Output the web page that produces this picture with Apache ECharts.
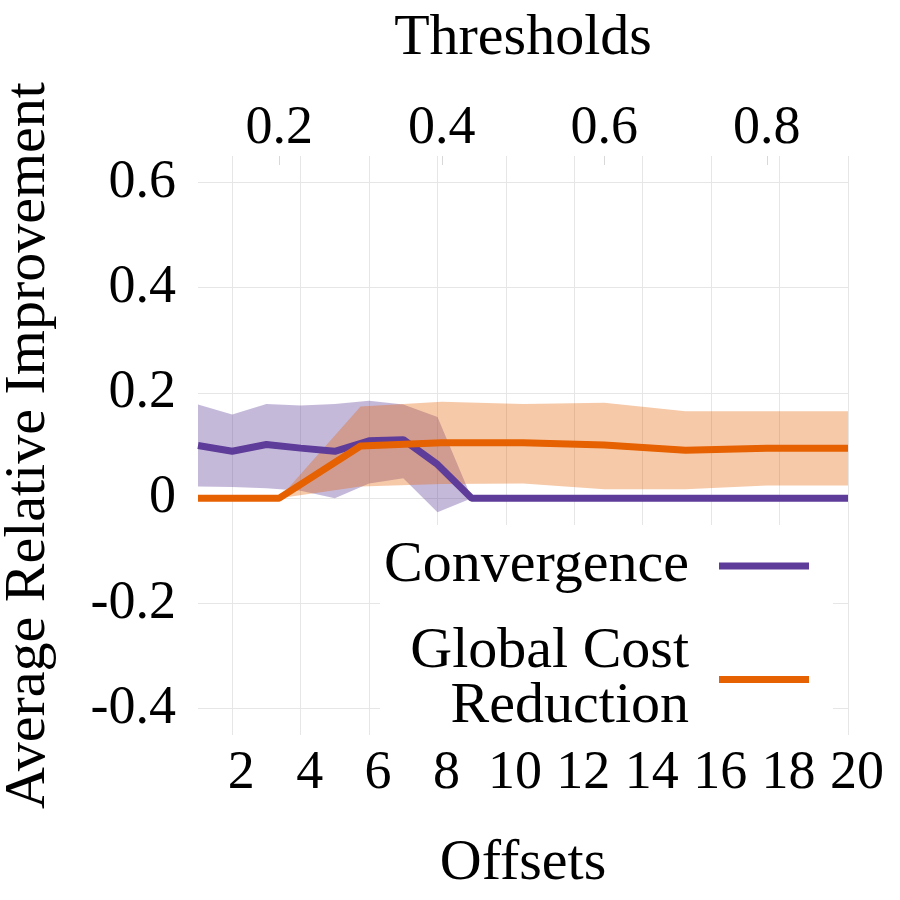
<!DOCTYPE html>
<html>
<head>
<meta charset="utf-8">
<script src="https://cdn.jsdelivr.net/npm/echarts@6/dist/echarts.min.js"></script>
<style>
  html, body { margin: 0; padding: 0; background: #fff; }
  #chart { width: 900px; height: 900px; }
</style>
</head>
<body>
<div id="chart"></div>
<script>
// bottom axis: offsets
const offsets = [1, 2, 3, 4, 5, 6, 7, 8, 9, 10, 11, 12, 13, 14, 15, 16, 17, 18, 19, 20]
const convMean = [0.100, 0.089, 0.102, 0.095, 0.089, 0.109, 0.111, 0.064, 0, 0, 0, 0, 0, 0, 0, 0, 0, 0, 0, 0]
const convLow = [0.022, 0.021, 0.019, 0.014, 0.000, 0.028, 0.038, -0.027, 0, 0, 0, 0, 0, 0, 0, 0, 0, 0, 0, 0]
const convHigh = [0.178, 0.159, 0.179, 0.176, 0.179, 0.185, 0.178, 0.154, 0, 0, 0, 0, 0, 0, 0, 0, 0, 0, 0, 0]

// top axis: thresholds
const thresholds = [0.1, 0.2, 0.3, 0.4, 0.5, 0.6, 0.7, 0.8, 0.9]
const gcrMean = [0, 0, 0.099, 0.105, 0.105, 0.101, 0.091, 0.095, 0.095]
const gcrLow = [0, 0, 0.022, 0.027, 0.028, 0.017, 0.017, 0.024, 0.024]
const gcrHigh = [0, 0, 0.174, 0.183, 0.179, 0.181, 0.165, 0.165, 0.165]

// tick labels
const offsetTicks = [2, 4, 6, 8, 10, 12, 14, 16, 18, 20]
const thresholdTicks = [0.2, 0.4, 0.6, 0.8]
const yTicks = [-0.4, -0.2, 0, 0.2, 0.4, 0.6]

const purple = '#5e3c99'
const orange = '#e66101'
const gridColor = '#e6e6e6'
const font = 'Liberation Serif'

const fmt = v => (Math.abs(v) < 1e-9 ? '0' : Number(v).toFixed(1))

const chart = echarts.init(document.getElementById('chart'))

// shaded band drawn as one polygon through the axis scales
const band = (xIdx, xs, low, high, color, opacity) => ({
  type: 'custom',
  xAxisIndex: xIdx,
  silent: true,
  z: 1,
  encode: { x: 0, y: [1, 2] },
  data: xs.map((x, i) => [x, low[i], high[i]]),
  renderItem: (params, api) => {
    if (params.dataIndexInside !== 0) return null
    const n = params.dataInsideLength
    const top = []
    const bottom = []
    for (let i = 0; i < n; i++) {
      top.push(api.coord([api.value(0, i), api.value(2, i)]))
      bottom.push(api.coord([api.value(0, i), api.value(1, i)]))
    }
    return {
      type: 'polygon',
      shape: { points: top.concat(bottom.reverse()) },
      style: { fill: color, opacity: opacity }
    }
  }
})

const option = {
  animation: false,
  textStyle: { fontFamily: font, color: '#000' },
  grid: { left: 198, right: 52, top: 156, bottom: 165, outerBoundsMode: 'none', containLabel: false },
  legend: {
    data: ['Convergence', 'Global Cost\nReduction'],
    orient: 'vertical',
    right: 67,
    top: 525,
    align: 'right',
    icon: 'rect',
    itemWidth: 90,
    itemHeight: 7,
    itemGap: 28,
    padding: [12, 24, 0, 4],
    backgroundColor: '#fff',
    textStyle: { fontFamily: font, fontSize: 58, lineHeight: 55, color: '#000', padding: [0, 25, 0, 0] }
  },
  xAxis: [
    {
      type: 'value',
      position: 'bottom',
      min: 1,
      max: 20,
      name: 'Offsets',
      nameLocation: 'middle',
      nameGap: 100,
      nameTextStyle: { fontSize: 58, fontFamily: font, color: '#000' },
      axisLine: { show: false },
      axisTick: { show: false, customValues: offsetTicks },
      axisLabel: {
        customValues: offsetTicks, fontSize: 54, margin: 12, color: '#000',
        padding: [0, 0, 0, 18], formatter: v => String(v)
      },
      splitLine: { show: true, customValues: offsetTicks, lineStyle: { color: gridColor, width: 1 } }
    },
    {
      type: 'value',
      position: 'top',
      min: 0.1,
      max: 0.9,
      name: 'Thresholds',
      nameLocation: 'middle',
      nameGap: 88,
      nameTextStyle: { fontSize: 58, fontFamily: font, color: '#000' },
      axisLine: { show: false },
      axisTick: { show: true, inside: true, length: 9, customValues: thresholdTicks, lineStyle: { color: '#d8d8d8' } },
      axisLabel: { customValues: thresholdTicks, fontSize: 54, margin: 0, color: '#000', formatter: fmt },
      splitLine: { show: false }
    }
  ],
  yAxis: {
    type: 'value',
    min: -0.45,
    max: 0.65,
    name: 'Average Relative Improvement',
    nameLocation: 'middle',
    nameGap: 140,
    nameTextStyle: { fontSize: 58, fontFamily: font, color: '#000' },
    axisLine: { show: false },
    axisTick: { show: false, customValues: yTicks },
    axisLabel: { customValues: yTicks, fontSize: 54, margin: 22, color: '#000', formatter: fmt },
    splitLine: { show: true, customValues: yTicks, lineStyle: { color: gridColor, width: 1 } }
  },
  series: [
    band(0, offsets, convLow, convHigh, purple, 0.36),
    band(1, thresholds, gcrLow, gcrHigh, orange, 0.34),
    {
      name: 'Convergence',
      type: 'line',
      xAxisIndex: 0,
      symbol: 'none',
      z: 3,
      color: purple,
      lineStyle: { color: purple, width: 7 },
      data: offsets.map((x, i) => [x, convMean[i]])
    },
    {
      name: 'Global Cost\nReduction',
      type: 'line',
      xAxisIndex: 1,
      symbol: 'none',
      z: 3,
      color: orange,
      lineStyle: { color: orange, width: 7 },
      data: thresholds.map((x, i) => [x, gcrMean[i]])
    }
  ]
}

chart.setOption(option)
</script>
</body>
</html>
